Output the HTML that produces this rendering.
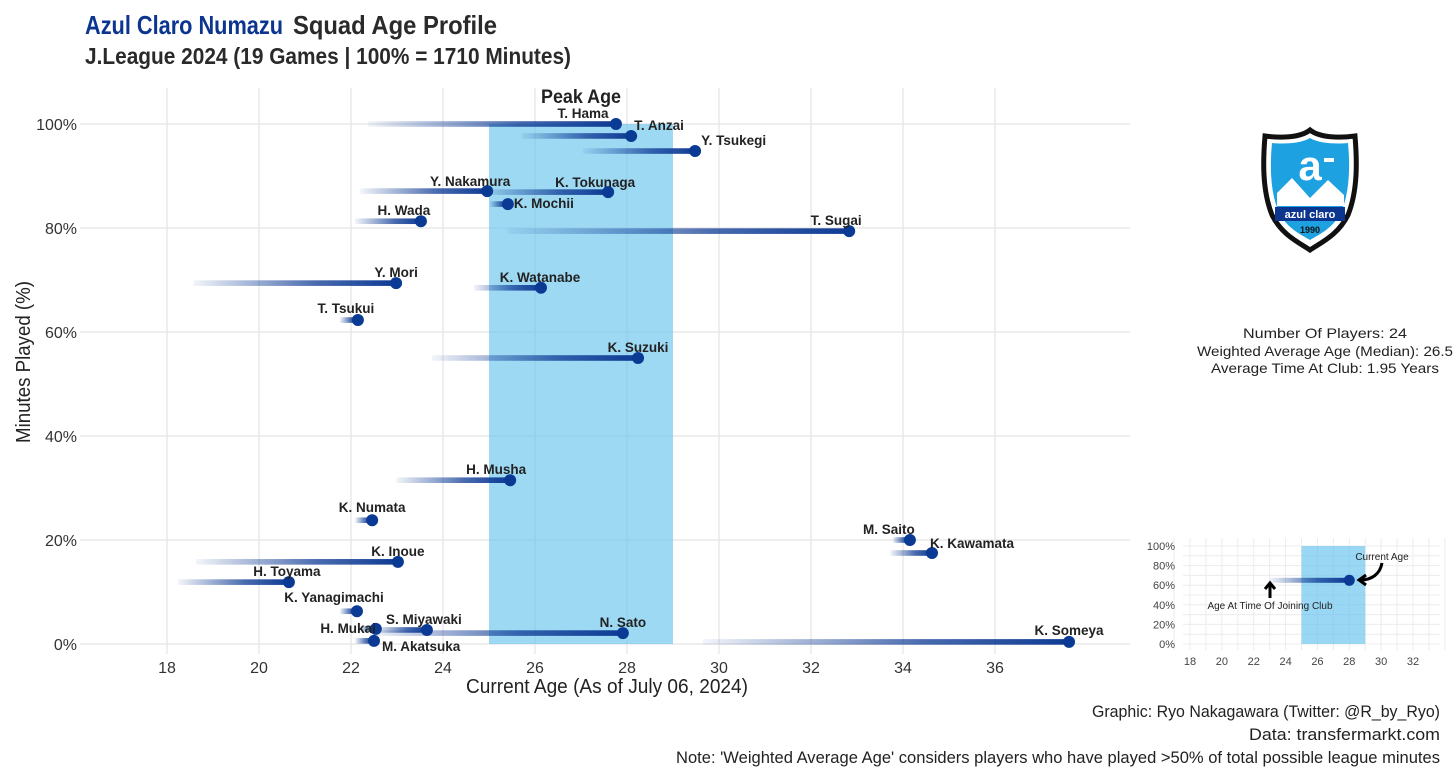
<!DOCTYPE html>
<html><head><meta charset="utf-8">
<style>
html,body{margin:0;padding:0;background:#fff;}
svg{display:block;font-family:"Liberation Sans Narrow","Liberation Sans",sans-serif;}
</style></head>
<body>
<svg id="chart" width="1456" height="777" viewBox="0 0 1456 777" xmlns="http://www.w3.org/2000/svg">
<defs>
<linearGradient id="seg" x1="0" y1="0" x2="1" y2="0">
<stop offset="0" stop-color="#0d3a94" stop-opacity="0.05"/>
<stop offset="0.6" stop-color="#0d3a94" stop-opacity="0.75"/>
<stop offset="1" stop-color="#0d3a94" stop-opacity="1"/>
</linearGradient>
</defs>
<text x="85" y="34" font-size="26" font-weight="bold" fill="#0c3590" textLength="198" lengthAdjust="spacingAndGlyphs">Azul Claro Numazu</text>
<text x="293" y="34" font-size="26" font-weight="bold" fill="#2a2a2a" textLength="204" lengthAdjust="spacingAndGlyphs">Squad Age Profile</text>
<text x="85" y="64" font-size="23" font-weight="bold" fill="#2a2a2a" textLength="486" lengthAdjust="spacingAndGlyphs">J.League 2024 (19 Games | 100% = 1710 Minutes)</text>
<g id="grid"></g>
<g id="band"></g>
<g id="marks"></g>
<g id="axes"></g>
<text x="607" y="693" font-size="20" fill="#222" text-anchor="middle" textLength="282" lengthAdjust="spacingAndGlyphs">Current Age (As of July 06, 2024)</text>
<text transform="translate(30,362) rotate(-90)" font-size="20" fill="#222" text-anchor="middle" textLength="162" lengthAdjust="spacingAndGlyphs">Minutes Played (%)</text>

<g transform="translate(1310,190)">
<path d="M0,-60 C10,-52 30,-52 45,-54 C47,-30 48,0 38,25 C28,45 12,52 0,60 C-12,52 -28,45 -38,25 C-48,0 -47,-30 -45,-54 C-30,-52 -10,-52 0,-60Z" fill="#fff" stroke="#111" stroke-width="5"/>
<path d="M0,-52 C10,-46 28,-46 38,-47 C40,-26 40,0 32,20 C24,38 10,44 0,50 C-10,44 -24,38 -32,20 C-40,0 -40,-26 -38,-47 C-28,-46 -10,-46 0,-52Z" fill="#1da1e0"/>
<path d="M-33,3 L-18,-12 L0,8 L18,-10 L34,5 L34,16 L-33,16Z" fill="#fff"/>
<rect x="-35" y="17" width="70" height="14" fill="#0c3590"/>
<text x="0" y="28" font-size="11" font-weight="bold" fill="#fff" text-anchor="middle" font-family="Liberation Sans, sans-serif">azul claro</text>
<text x="0" y="43" font-size="9" font-weight="bold" fill="#111" text-anchor="middle" font-family="Liberation Sans, sans-serif">1990</text>
<text x="0" y="-10" font-size="42" font-weight="bold" fill="#fff" text-anchor="middle" font-family="Liberation Sans, sans-serif">a</text>
<rect x="14" y="-32" width="10" height="4" fill="#fff"/>
</g>

<g font-size="14" fill="#222" text-anchor="middle">
<text x="1325" y="338" textLength="164" lengthAdjust="spacingAndGlyphs">Number Of Players: 24</text>
<text x="1325" y="356" textLength="256" lengthAdjust="spacingAndGlyphs">Weighted Average Age (Median): 26.5</text>
<text x="1325" y="373" textLength="228" lengthAdjust="spacingAndGlyphs">Average Time At Club: 1.95 Years</text>
</g>

<g id="inset"></g>

<g font-size="17" fill="#222" text-anchor="end">
<text x="1440" y="717" textLength="348" lengthAdjust="spacingAndGlyphs">Graphic: Ryo Nakagawara (Twitter: @R_by_Ryo)</text>
<text x="1440" y="740" textLength="191" lengthAdjust="spacingAndGlyphs">Data: transfermarkt.com</text>
<text x="1440" y="763" textLength="764" lengthAdjust="spacingAndGlyphs">Note: 'Weighted Average Age' considers players who have played &gt;50% of total possible league minutes</text>
</g>
</svg>
<script>
const players = ["T. Hama","T. Anzai","Y. Tsukegi","Y. Nakamura","K. Tokunaga","K. Mochii","H. Wada","T. Sugai","Y. Mori","K. Watanabe","T. Tsukui","K. Suzuki","H. Musha","K. Numata","M. Saito","K. Kawamata","K. Inoue","H. Toyama","K. Yanagimachi","S. Miyawaki","H. Mukai","N. Sato","M. Akatsuka","K. Someya"];
const joinAge = [22.37,25.7,27.04,22.2,24.9,25.02,22.09,25.4,18.57,24.67,21.76,23.76,22.98,22.09,33.78,33.72,18.63,18.24,21.76,22.54,22.2,22.41,22.09,29.65];
const currentAge = [27.76,28.09,29.48,24.96,27.59,25.41,23.52,32.83,22.98,26.13,22.15,28.24,25.46,22.46,34.15,34.63,23.02,20.65,22.13,23.65,22.54,27.91,22.5,37.61];
const minutesPct = [100,97.7,94.8,87.1,86.9,84.6,81.3,79.4,69.4,68.5,62.3,55,31.5,23.8,20,17.5,15.8,11.9,6.3,2.7,2.9,2.1,0.6,0.4];
const xTicks = [18,20,22,24,26,28,30,32,34,36];
const yTicks = [0,20,40,60,80,100];
const peakAge = [25,29];
const insetXTicks = [18,20,22,24,26,28,30,32];
const insetYTicks = [0,20,40,60,80,100];
const insetExample = [23,28,65];
/* label placement: [anchor, dx, dy] */
const labelPos = [["middle",-33,-6],["start",3,-6],["start",6,-6],["middle",-17,-5],["middle",-13,-5],["start",6,4],["middle",-17,-6],["middle",-13,-6],["middle",0,-6],["middle",-1,-6],["middle",-12,-7],["middle",0,-6],["middle",-14,-6],["middle",0,-8],["middle",-21,-6],["start",-2,-5],["middle",0,-6],["middle",-2,-6],["middle",-23,-9],["middle",-3,-6],["end",0,4],["middle",0,-6],["start",8,10],["middle",0,-7]];

const NS="http://www.w3.org/2000/svg";
function el(tag,attrs,parent){const e=document.createElementNS(NS,tag);for(const k in attrs)e.setAttribute(k,attrs[k]);parent.appendChild(e);return e;}
const X=a=>167+(a-18)*46;
const Y=p=>644-p*5.2;
const grid=document.getElementById('grid'),band=document.getElementById('band'),marks=document.getElementById('marks'),axes=document.getElementById('axes');

xTicks.forEach(t=>{
  const l=el('line',{x1:X(t),x2:X(t),y1:88,y2:654,stroke:'#e4e4e4','stroke-width':1.2},grid);
  
  
  const tx=el('text',{x:X(t),y:673,'font-size':16,fill:'#333','text-anchor':'middle'},axes);
  tx.textContent=t;
  
  
});
yTicks.forEach(t=>{
  const l=el('line',{x1:80,x2:1130,y1:Y(t),y2:Y(t),stroke:'#e4e4e4','stroke-width':1.2},grid);
  
  
  const tx=el('text',{x:77,y:Y(t)+6,'font-size':16,fill:'#333','text-anchor':'end'},axes);
  tx.textContent=t+'%';
  
  
});
const br=el('rect',{x:X(peakAge[0]),y:Y(100),width:X(peakAge[1])-X(peakAge[0]),height:Y(0)-Y(100),fill:'#62c1ee','fill-opacity':0.62},band);


const pl=el('text',{x:(X(peakAge[0])+X(peakAge[1]))/2,y:103,'font-size':19,'font-weight':'bold',fill:'#222','text-anchor':'middle',textLength:80,lengthAdjust:'spacingAndGlyphs'},band);
pl.textContent='Peak Age';



players.forEach((n,i)=>{
  const x1=X(joinAge[i]),x2=X(currentAge[i]),y=Y(minutesPct[i]);
  const seg=el('rect',{x:x1,y:y-2.8,width:Math.max(x2-x1,1),height:5.6,fill:'url(#seg)'},marks);
  
  
});
players.forEach((n,i)=>{
  const x2=X(currentAge[i]),y=Y(minutesPct[i]);
  const c=el('circle',{cx:x2,cy:y,r:6,fill:'#0b3a94'},marks);
  
  
  const lp=labelPos[i];
  const t=el('text',{x:x2+lp[1],y:y+lp[2],'font-size':13.5,'font-weight':'bold',fill:'#222','text-anchor':lp[0],'font-family':'Liberation Sans, sans-serif'},marks);
  t.textContent=n;
  
  
});

/* inset legend */
const inset=document.getElementById('inset');
const IX=a=>1190+(a-18)*15.93;
const IY=p=>644-p*0.98;
for(let a=17;a<=34;a++){el('line',{x1:IX(a),x2:IX(a),y1:538,y2:650,stroke:'#ececec','stroke-width':1},inset);}
for(let p=0;p<=100;p+=10){el('line',{x1:1183,x2:1440,y1:IY(p),y2:IY(p),stroke:'#ececec','stroke-width':1},inset);}
el('rect',{x:IX(25),y:IY(100),width:IX(29)-IX(25),height:IY(0)-IY(100),fill:'#62c1ee','fill-opacity':0.65},inset);
insetXTicks.forEach(t=>{const tx=el('text',{x:IX(t),y:665,'font-size':11,fill:'#444','text-anchor':'middle'},inset);tx.textContent=t;
  
  });
insetYTicks.forEach(t=>{const tx=el('text',{x:1175,y:IY(t)+4,'font-size':11,fill:'#444','text-anchor':'end'},inset);tx.textContent=t+'%';
  
  });
el('rect',{x:IX(insetExample[0]),y:IY(insetExample[2])-2.5,width:IX(insetExample[1])-IX(insetExample[0]),height:5,fill:'url(#seg)'},inset);
const ic=el('circle',{cx:IX(insetExample[1]),cy:IY(insetExample[2]),r:5.5,fill:'#0b3a94'},inset);


el('path',{d:'M1270,598 L1270,584 M1265,589 L1270,583 L1275,589',stroke:'#000','stroke-width':3,fill:'none'},inset);
el('path',{d:'M1382,563 C1380,574 1372,580 1360,580 M1366,575 L1359,580 L1366,585',stroke:'#000','stroke-width':3,fill:'none'},inset);
const t1=el('text',{x:1382,y:560,'font-size':10,fill:'#222','text-anchor':'middle'},inset);t1.textContent='Current Age';


const t2=el('text',{x:1270,y:609,'font-size':10,fill:'#222','text-anchor':'middle'},inset);t2.textContent='Age At Time Of Joining Club';


</script>
</body></html>
